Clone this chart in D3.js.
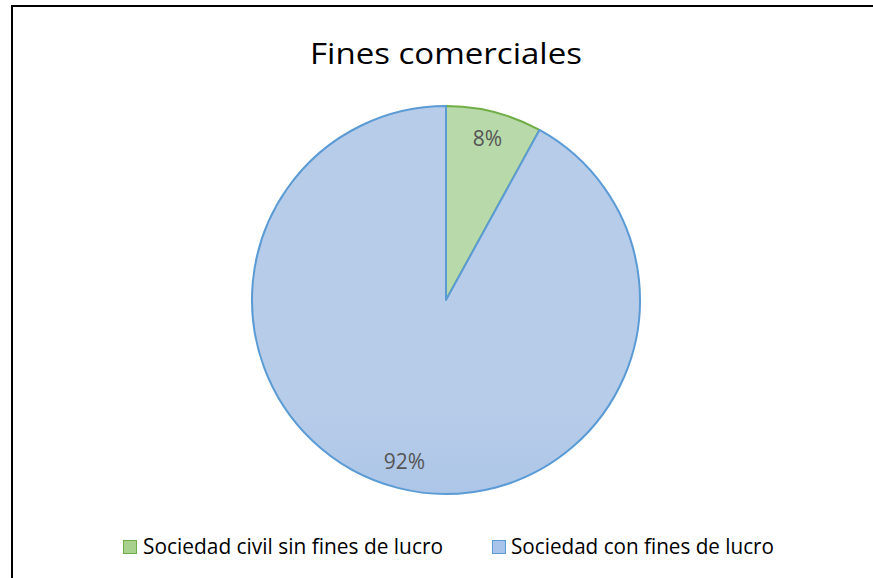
<!DOCTYPE html>
<html><head><meta charset="utf-8">
<script src="https://cdn.jsdelivr.net/npm/d3@7"></script>
<style>html,body{margin:0;padding:0;background:#fff;}svg{display:block;}</style>
</head><body>
<svg id="c" width="873" height="578"></svg>
<script>
const title = "Fines comerciales";
const categories = ["Sociedad civil sin fines de lucro", "Sociedad con fines de lucro"];
const values = [8, 92];
const labels = ["8%", "92%"];

const svg = d3.select("#c");
const font = "'Open Sans', sans-serif";

svg.append("rect").attr("x", 12).attr("y", 6).attr("width", 900).attr("height", 600)
  .attr("fill", "#fff").attr("stroke", "#000").attr("stroke-width", 2);

const defs = svg.append("defs");
const grads = [
  {id: "gGreen", top: "#b8daab", bot: "#96c880", stroke: "#70ad47", sw: "#a9d18e", swStroke: "#70ad47"},
  {id: "gBlue", top: "#b7cce9", bot: "#8cb2e2", stroke: "#5b9bd5", sw: "#a9c4ea", swStroke: "#5b9bd5"}
];
const cx = 446, cy = 300, R = 194;
grads.forEach(g => {
  const lg = defs.append("linearGradient").attr("id", g.id)
    .attr("gradientUnits", "userSpaceOnUse")
    .attr("x1", 0).attr("y1", cy - R).attr("x2", 0).attr("y2", cy + R);
  lg.append("stop").attr("offset", "0").attr("stop-color", g.top);
  lg.append("stop").attr("offset", "1").attr("stop-color", g.bot);
});

svg.append("text").attr("x", 446).attr("y", 63.5).attr("text-anchor", "middle")
  .attr("font-family", font).attr("font-size", 30).attr("fill", "#000")
  .attr("textLength", 272).attr("lengthAdjust", "spacingAndGlyphs").text(title);

const pie = d3.pie().sort(null).value(d => d)(values);
const arc = d3.arc().innerRadius(0).outerRadius(R);
const labelArc = d3.arc().innerRadius(R * 0.86).outerRadius(R * 0.86);
const g = svg.append("g").attr("transform", `translate(${cx},${cy})`);
g.selectAll("path").data(pie).join("path")
  .attr("d", arc)
  .attr("fill", (d, i) => `url(#${grads[i].id})`)
  .attr("stroke", (d, i) => grads[i].stroke)
  .attr("stroke-width", 2).attr("stroke-linejoin", "round");
g.selectAll("text").data(pie).join("text")
  .attr("transform", d => `translate(${labelArc.centroid(d)})`)
  .attr("text-anchor", "middle").attr("dy", "0.36em")
  .attr("font-family", font).attr("font-size", 21).attr("fill", "#555555")
  .text((d, i) => labels[i]);

const legX = [123, 492];
const legW = [300, 263];
const leg = svg.append("g");
categories.forEach((c, i) => {
  leg.append("rect").attr("x", legX[i] + 0.5).attr("y", 540.5).attr("width", 13).attr("height", 13)
    .attr("fill", grads[i].sw).attr("stroke", grads[i].swStroke).attr("stroke-width", 1);
  leg.append("text").attr("x", legX[i] + (i === 0 ? 20 : 19)).attr("y", 553.5)
    .attr("font-family", font).attr("font-size", 21).attr("fill", "#000")
    .attr("textLength", legW[i]).attr("lengthAdjust", "spacingAndGlyphs").text(c);
});
</script>
</body></html>
